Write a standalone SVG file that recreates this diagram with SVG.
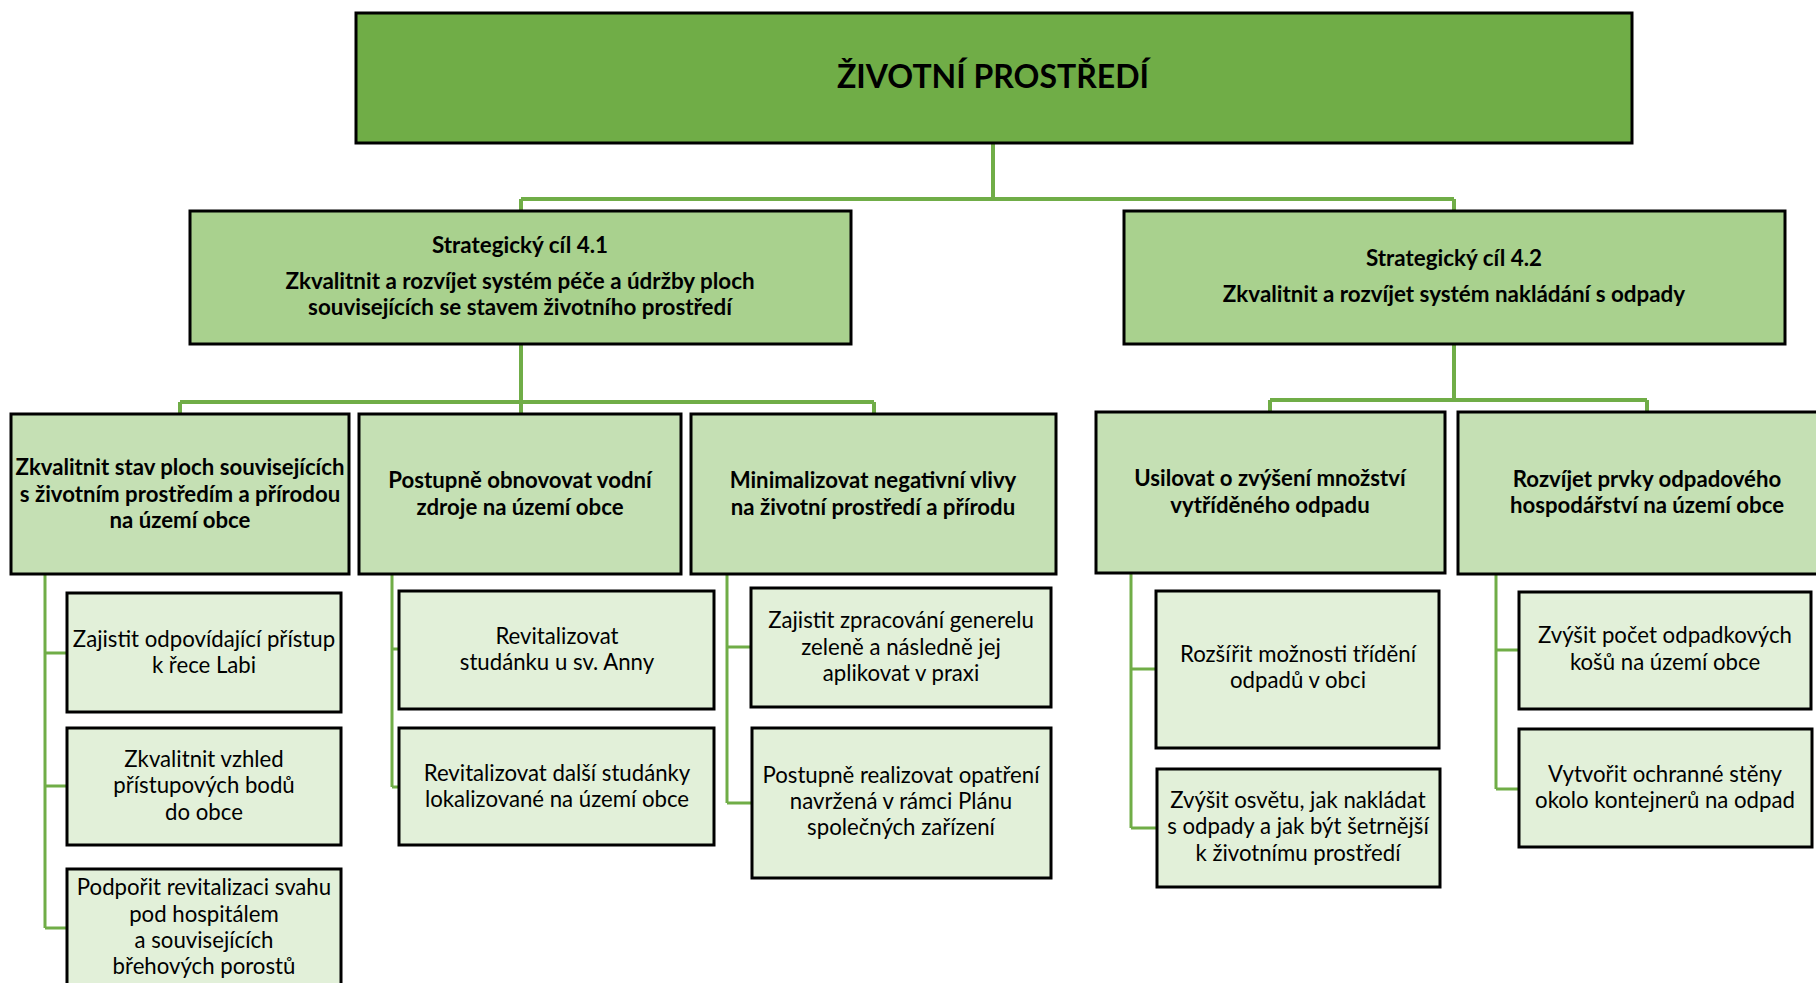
<svg xmlns="http://www.w3.org/2000/svg" width="1816" height="983" viewBox="0 0 1816 983">
<style>
.n rect{stroke:#000;stroke-width:3}
.top{fill:#70AD47}
.s{fill:#A9D18E}
.m{fill:#C5E0B4}
.l{fill:#E2F0D9}
text{font-family:Lato,"Open Sans",sans-serif;fill:#000;text-anchor:middle}
.t{font-size:32px;font-weight:bold}
.sb{font-size:22.4px;font-weight:bold}
.b{font-size:22.2px;font-weight:bold}
.r{font-size:22.2px}
.c{fill:none;stroke:#70AD47;stroke-width:4}
.c2{fill:none;stroke:#70AD47;stroke-width:3}
</style>
<rect width="1816" height="983" fill="#fff"/>
<g id="connectors">
<path class="c" d="M993 143V199M521 199H1454M521 199V211M1454 199V211"/>
<path class="c" d="M521 344V402M180 402H874M180 402V414M521 402V414M874 402V414"/>
<path class="c" d="M1454 344V400M1270 400H1647M1270 400V412M1647 400V412"/>
<path class="c2" d="M45 575V928M45 653H67M45 786H67M45 928H67"/>
<path class="c2" d="M392 575V787M392 649H399M392 787H399"/>
<path class="c2" d="M727 575V803M727 647H751M727 803H752"/>
<path class="c2" d="M1131 573V828M1131 669H1156M1131 828H1157"/>
<path class="c2" d="M1496 573V789M1496 650H1519M1496 789H1519"/>
</g>
<g id="root" class="n"><rect class="top" x="356" y="13" width="1276" height="130"/><text class="t" x="993" y="88">ŽIVOTNÍ PROSTŘEDÍ</text></g>
<g id="sc41" class="n"><rect class="s" x="190" y="211" width="661" height="133"/><text class="sb" x="520" y="253">Strategický cíl 4.1</text><text class="sb" x="520" y="289">Zkvalitnit a rozvíjet systém péče a údržby ploch</text><text class="sb" x="520" y="315">souvisejících se stavem životního prostředí</text></g>
<g id="sc42" class="n"><rect class="s" x="1124" y="211" width="661" height="133"/><text class="sb" x="1454" y="266">Strategický cíl 4.2</text><text class="sb" x="1454" y="302">Zkvalitnit a rozvíjet systém nakládání s odpady</text></g>
<g id="a" class="n"><rect class="m" x="11" y="414" width="338" height="160"/><text class="b" x="180" y="475">Zkvalitnit stav ploch souvisejících</text><text class="b" x="180" y="502">s životním prostředím a přírodou</text><text class="b" x="180" y="528">na území obce</text></g>
<g id="b" class="n"><rect class="m" x="359" y="414" width="322" height="160"/><text class="b" x="520" y="488">Postupně obnovovat vodní</text><text class="b" x="520" y="515">zdroje na území obce</text></g>
<g id="c" class="n"><rect class="m" x="691" y="414" width="365" height="160"/><text class="b" x="873" y="488">Minimalizovat negativní vlivy</text><text class="b" x="873" y="515">na životní prostředí a přírodu</text></g>
<g id="d" class="n"><rect class="m" x="1096" y="412" width="349" height="161"/><text class="b" x="1270" y="486">Usilovat o zvýšení množství</text><text class="b" x="1270" y="513">vytříděného odpadu</text></g>
<g id="e" class="n"><rect class="m" x="1458" y="412" width="372" height="162"/><text class="b" x="1647" y="487">Rozvíjet prvky odpadového</text><text class="b" x="1647" y="513">hospodářství na území obce</text></g>
<g id="a1" class="n"><rect class="l" x="67" y="593" width="274" height="119"/><text class="r" x="204" y="647">Zajistit odpovídající přístup</text><text class="r" x="204" y="673">k řece Labi</text></g>
<g id="a2" class="n"><rect class="l" x="67" y="728" width="274" height="117"/><text class="r" x="204" y="767">Zkvalitnit vzhled</text><text class="r" x="204" y="793">přístupových bodů</text><text class="r" x="204" y="820">do obce</text></g>
<g id="a3" class="n"><rect class="l" x="67" y="869" width="274" height="130"/><text class="r" x="204" y="895">Podpořit revitalizaci svahu</text><text class="r" x="204" y="922">pod hospitálem</text><text class="r" x="204" y="948">a souvisejících</text><text class="r" x="204" y="974">břehových porostů</text></g>
<g id="b1" class="n"><rect class="l" x="399" y="591" width="315" height="118"/><text class="r" x="557" y="644">Revitalizovat</text><text class="r" x="557" y="670">studánku u sv. Anny</text></g>
<g id="b2" class="n"><rect class="l" x="399" y="728" width="315" height="117"/><text class="r" x="557" y="781">Revitalizovat další studánky</text><text class="r" x="557" y="807">lokalizované na území obce</text></g>
<g id="c1" class="n"><rect class="l" x="751" y="588" width="300" height="119"/><text class="r" x="901" y="628">Zajistit zpracování generelu</text><text class="r" x="901" y="655">zeleně a následně jej</text><text class="r" x="901" y="681">aplikovat v praxi</text></g>
<g id="c2" class="n"><rect class="l" x="752" y="728" width="299" height="150"/><text class="r" x="901" y="783">Postupně realizovat opatření</text><text class="r" x="901" y="809">navržená v rámci Plánu</text><text class="r" x="901" y="835">společných zařízení</text></g>
<g id="d1" class="n"><rect class="l" x="1156" y="591" width="283" height="157"/><text class="r" x="1298" y="662">Rozšířit možnosti třídění</text><text class="r" x="1298" y="688">odpadů v obci</text></g>
<g id="d2" class="n"><rect class="l" x="1157" y="769" width="283" height="118"/><text class="r" x="1298" y="808">Zvýšit osvětu, jak nakládat</text><text class="r" x="1298" y="834">s odpady a jak být šetrnější</text><text class="r" x="1298" y="861">k životnímu prostředí</text></g>
<g id="e1" class="n"><rect class="l" x="1519" y="592" width="292" height="117"/><text class="r" x="1665" y="643">Zvýšit počet odpadkových</text><text class="r" x="1665" y="670">košů na území obce</text></g>
<g id="e2" class="n"><rect class="l" x="1519" y="729" width="293" height="118"/><text class="r" x="1665" y="782">Vytvořit ochranné stěny</text><text class="r" x="1665" y="808">okolo kontejnerů na odpad</text></g>
</svg>
